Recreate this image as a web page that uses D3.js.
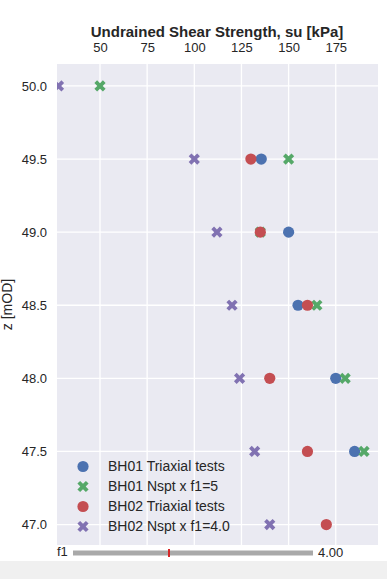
<!DOCTYPE html>
<html><head><meta charset="utf-8">
<script src="https://cdn.jsdelivr.net/npm/d3@7"></script>
<style>
html,body{margin:0;padding:0;background:#fff;}
svg{display:block;font-family:"Liberation Sans",Arial,sans-serif;}
</style></head>
<body>
<svg id="chart" width="387" height="579"></svg>
<script>
// ---- data ----
const xTicks = [50, 75, 100, 125, 150, 175];
const yTicks = [50.0, 49.5, 49.0, 48.5, 48.0, 47.5, 47.0];
const bh01TriaxZ = [49.5, 49.0, 48.5, 48.0, 47.5];
const bh01TriaxSu = [135.5, 150, 155, 175, 185];
const bh01NsptZ = [50.0, 49.5, 49.0, 48.5, 48.0, 47.5];
const bh01Nspt = [10, 30, 27, 33, 36, 38];
const bh01F1 = 5;
const bh02TriaxZ = [49.5, 49.0, 48.5, 48.0, 47.5, 47.0];
const bh02TriaxSu = [130, 135, 160, 140, 160, 170];
const bh02NsptZ = [50.0, 49.5, 49.0, 48.5, 48.0, 47.5, 47.0];
const bh02Nspt = [7, 25, 28, 30, 31, 33, 35];
const bh02F1 = 4.0;
const legendLabels = ["BH01 Triaxial tests", "BH01 Nspt x f1=5", "BH02 Triaxial tests", "BH02 Nspt x f1=4.0"];
const sliderMin = 0, sliderMax = 10, sliderValue = 4.0;

// ---- layout ----
const svg = d3.select("#chart");
const L = 57, R = 378, T = 64, B = 545;
const x = d3.scaleLinear().domain([27.2, 197.4]).range([L, R]);
const y = d3.scaleLinear().domain([46.86, 50.15]).range([B, T]);
const colors = {blue:"#4C72B0", green:"#55A868", red:"#C44E52", purple:"#8172B2"};

svg.append("rect").attr("x", L).attr("y", T).attr("width", R-L).attr("height", B-T).attr("fill", "#EAEAF2");

// grid
svg.append("g").selectAll("line").data(xTicks).join("line")
  .attr("x1", d=>x(d)).attr("x2", d=>x(d)).attr("y1", T).attr("y2", B)
  .attr("stroke", "#fff").attr("stroke-width", 1.3);
svg.append("g").selectAll("line").data(yTicks).join("line")
  .attr("x1", L).attr("x2", R).attr("y1", d=>y(d)).attr("y2", d=>y(d))
  .attr("stroke", "#fff").attr("stroke-width", 1.3);

// axes (top and left), no domain lines/ticks
const xAxis = svg.append("g").attr("transform", `translate(0,${T})`)
  .call(d3.axisTop(x).tickValues(xTicks).tickSize(0).tickPadding(12).tickFormat(d3.format("d")));
const yAxis = svg.append("g").attr("transform", `translate(${L},0)`)
  .call(d3.axisLeft(y).tickValues(yTicks).tickSize(0).tickPadding(10).tickFormat(d3.format(".1f")));
[xAxis, yAxis].forEach(a => {
  a.select(".domain").remove();
  a.selectAll("text").attr("font-size", 13).attr("fill", "#262626").attr("font-family", "Liberation Sans, Arial, sans-serif");
});

svg.append("text").attr("x", (L+R)/2 - 0.5).attr("y", 37).attr("text-anchor", "middle")
  .attr("font-size", 15).attr("font-weight", "bold").attr("fill", "#262626")
  .text("Undrained Shear Strength, su [kPa]");
svg.append("text").attr("transform", `translate(12,${(T+B)/2}) rotate(-90)`).attr("text-anchor", "middle")
  .attr("font-size", 14).attr("fill", "#262626").text("z [mOD]");

// clip
svg.append("clipPath").attr("id", "clip").append("rect").attr("x", L).attr("y", T).attr("width", R-L).attr("height", B-T);
const plot = svg.append("g").attr("clip-path", "url(#clip)");

function xPath(s, w) {
  // filled X marker: cross rotated 45 deg
  const pts = [[-w,0],[-s,-s+w],[-s+w,-s],[0,-w],[s-w,-s],[s,-s+w],[w,0],[s,s-w],[s-w,s],[0,w],[-s+w,s],[-s,s-w]];
  return "M" + pts.map(p=>p.join(",")).join("L") + "Z";
}
const XS = 5.6, XW = 2.7, CR = 5.6;

function circles(zs, vs, col) {
  plot.append("g").selectAll("circle").data(zs.map((z,i)=>({z, v: vs[i]}))).join("circle")
    .attr("cx", d=>x(d.v)).attr("cy", d=>y(d.z)).attr("r", CR).attr("fill", col);
}
function crosses(zs, ns, f, col) {
  plot.append("g").selectAll("path").data(zs.map((z,i)=>({z, v: ns[i]*f}))).join("path")
    .attr("transform", d=>`translate(${x(d.v)},${y(d.z)})`).attr("d", xPath(XS, XW)).attr("fill", col);
}
circles(bh01TriaxZ, bh01TriaxSu, colors.blue);
crosses(bh01NsptZ, bh01Nspt, bh01F1, colors.green);
circles(bh02TriaxZ, bh02TriaxSu, colors.red);
crosses(bh02NsptZ, bh02Nspt, bh02F1, colors.purple);

// legend
const legCols = [colors.blue, colors.green, colors.red, colors.purple];
const legShape = ["c","x","c","x"];
const leg = svg.append("g");
legendLabels.forEach((lab, i) => {
  const yy = 466.5 + i*20;
  if (legShape[i] === "c") leg.append("circle").attr("cx", 83).attr("cy", yy).attr("r", CR).attr("fill", legCols[i]);
  else leg.append("path").attr("transform", `translate(83,${yy})`).attr("d", xPath(XS, XW)).attr("fill", legCols[i]);
  leg.append("text").attr("x", 108).attr("y", yy).attr("dy", "0.35em").attr("font-size", 14).attr("fill", "#262626").text(lab);
});

// slider
const sx = d3.scaleLinear().domain([sliderMin, sliderMax]).range([73, 313]);
svg.append("text").attr("x", 57).attr("y", 556).attr("font-size", 13).attr("fill", "#262626").text("f1");
svg.append("rect").attr("x", sx(sliderMin)).attr("y", 550.5).attr("width", sx(sliderMax)-sx(sliderMin)).attr("height", 5).attr("fill", "#A9A9A9");
svg.append("rect").attr("x", sx(sliderValue)-1).attr("y", 549).attr("width", 2).attr("height", 8).attr("fill", "#D62728");
svg.append("text").attr("x", 318).attr("y", 557).attr("font-size", 13).attr("fill", "#262626").text(sliderValue.toFixed(2));

// bottom band
svg.append("rect").attr("x", 0).attr("y", 561).attr("width", 387).attr("height", 18).attr("fill", "#F0F0F0");
</script>
</body></html>
